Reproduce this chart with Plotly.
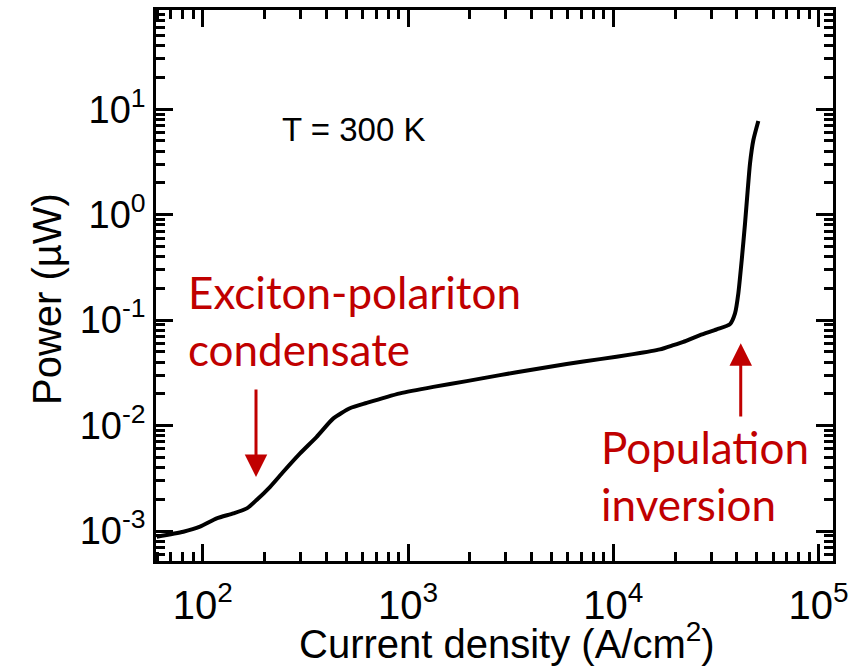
import plotly.graph_objects as go
import numpy as np

# Current density (A/cm^2) and emitted power (uW)
current_density = [59.7, 80.5, 97, 117, 141, 164, 183, 213, 247, 298, 359, 433, 521, 629,
                   914, 1328, 1931, 2805, 4077, 5929, 8610, 12500, 16870, 19590, 21930,
                   26440, 31890, 37020, 39150, 40630, 42210, 43800, 45140, 46320, 48070, 50850]
power_uW = [8.83e-4, 9.85e-4, 1.10e-3, 1.32e-3, 1.47e-3, 1.64e-3, 1.97e-3, 2.63e-3, 3.65e-3,
            5.45e-3, 7.83e-3, 1.17e-2, 1.46e-2, 1.64e-2, 2.02e-2, 2.33e-2, 2.64e-2, 3.01e-2,
            3.41e-2, 3.83e-2, 4.27e-2, 4.76e-2, 5.28e-2, 5.79e-2, 6.23e-2, 7.21e-2, 8.17e-2,
            9.16e-2, 0.1157, 0.179, 0.371, 0.825, 1.71, 3.06, 5.08, 7.74]

x_tick_vals = [1e2, 1e3, 1e4, 1e5]
x_tick_text = ["10<sup>2</sup>", "10<sup>3</sup>", "10<sup>4</sup>", "10<sup>5</sup>"]
y_tick_vals = [1e-3, 1e-2, 1e-1, 1e0, 1e1]
y_tick_text = ["10<sup>-3</sup>", "10<sup>-2</sup>", "10<sup>-1</sup>", "10<sup>0</sup>", "10<sup>1</sup>"]

# annotation anchor values (data units)
condensate_arrow = dict(j=181.8, p_tip=3.25e-3, p_tail=0.02267)
inversion_arrow = dict(j=41740, p_tip=0.0605, p_tail=0.01178)

RED = "#C00000"
AX_FONT = "Liberation Sans, Arial, sans-serif"
NOTE_FONT = "Lato, sans-serif"

x_minor = [m * 10.0 ** e for e in range(1, 6) for m in range(2, 10)]
y_minor = [m * 10.0 ** e for e in range(-4, 2) for m in range(2, 10)]

fig = go.Figure()
fig.add_trace(go.Scatter(x=current_density, y=power_uW, mode="lines",
                         line=dict(color="black", width=4, shape="spline", smoothing=0.6),
                         showlegend=False, hoverinfo="skip"))

axis_common = dict(type="log", showgrid=False, zeroline=False, showline=True,
                   linecolor="black", linewidth=2.5, mirror="allticks", automargin=False,
                   ticks="inside", ticklen=17, tickwidth=2.5, tickcolor="black",
                   tickmode="array")

fig.update_xaxes(**axis_common, range=[1.7725, 5.070], tickvals=x_tick_vals, ticktext=x_tick_text,
                 ticklabelstandoff=7, tickfont=dict(family=AX_FONT, size=40, color="black"),
                 minor=dict(tickmode="array", tickvals=x_minor, ticks="inside", ticklen=9,
                            tickwidth=2.5, tickcolor="black", showgrid=False))
fig.update_yaxes(**axis_common, range=[-3.284, 1.941], tickvals=y_tick_vals, ticktext=y_tick_text,
                 tickfont=dict(family=AX_FONT, size=38, color="black"),
                 minor=dict(tickmode="array", tickvals=y_minor, ticks="inside", ticklen=9,
                            tickwidth=2.5, tickcolor="black", showgrid=False))

# axis titles
fig.add_annotation(x=0.5185, y=-0.1445, xref="paper", yref="paper", xanchor="center", yanchor="middle",
                   text="Current density (A/cm<sup>2</sup>)", showarrow=False,
                   font=dict(family=AX_FONT, size=40, color="black"))
fig.add_annotation(x=-0.161, y=0.4755, xref="paper", yref="paper", xanchor="center", yanchor="middle",
                   text="Power (\u00b5W)", showarrow=False, textangle=-90,
                   font=dict(family=AX_FONT, size=40, color="black"))

fig.add_annotation(x=0.183, y=0.784, xref="paper", yref="paper", xanchor="left", yanchor="middle",
                   text="T = 300 K", showarrow=False,
                   font=dict(family=AX_FONT, size=33, color="black"))
fig.add_annotation(x=0.0445, y=0.436, xref="paper", yref="paper", xanchor="left", yanchor="middle",
                   text="Exciton-polariton<br>condensate", showarrow=False, align="left",
                   font=dict(family=NOTE_FONT, size=44, color=RED))
fig.add_annotation(x=0.655, y=0.156, xref="paper", yref="paper", xanchor="left", yanchor="middle",
                   text="Population<br>inversion", showarrow=False, align="left",
                   font=dict(family=NOTE_FONT, size=44, color=RED))

for arr in (condensate_arrow, inversion_arrow):
    fig.add_annotation(x=np.log10(arr["j"]), y=np.log10(arr["p_tip"]), xref="x", yref="y",
                       ax=np.log10(arr["j"]), ay=np.log10(arr["p_tail"]), axref="x", ayref="y",
                       text="", showarrow=True, arrowhead=2, arrowsize=1.5, arrowwidth=3,
                       arrowcolor=RED)

fig.update_layout(width=868, height=668, margin=dict(l=156, r=35, t=10, b=107),
                  plot_bgcolor="white", paper_bgcolor="white")

fig.write_html("out.html", config={"displayModeBar": False},
               post_script="document.body.style.margin='0';document.body.style.padding='0';"
                           "document.body.style.overflow='hidden';")
